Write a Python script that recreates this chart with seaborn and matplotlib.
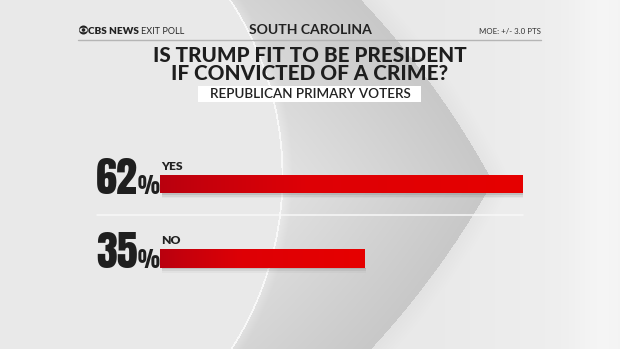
import numpy as np
import pandas as pd
import matplotlib
matplotlib.use("Agg")
import matplotlib.pyplot as plt
import seaborn as sns
from matplotlib.patches import Rectangle, Ellipse
from matplotlib.lines import Line2D
from matplotlib.textpath import TextPath
from matplotlib.font_manager import FontProperties

# ---- data ----
categories = ["YES", "NO"]
values = [62, 35]
header_left_bold = "CBS NEWS"
header_left_light = "EXIT POLL"
header_center = "SOUTH CAROLINA"
header_right = "MOE: +/- 3.0 PTS"
title_lines = ["IS TRUMP FIT TO BE PRESIDENT", "IF CONVICTED OF A CRIME?"]
subtitle = "REPUBLICAN PRIMARY VOTERS"

df = pd.DataFrame({"answer": categories, "pct": values})

sns.set_theme(style="white")
plt.rcParams["font.family"] = ["Lato", "DejaVu Sans"]

W, H = 620, 349
fig = plt.figure(figsize=(W / 100, H / 100), dpi=100)
fig.patch.set_facecolor("#e9e9e9")


def fx(px):
    return px / W


def fy(py):
    return 1 - py / H


def size_for(text, target_px, prop, dim="h"):
    """font size (pt) so that the glyph extent matches target pixels"""
    ext = TextPath((0, 0), text, size=1, prop=prop).get_extents()
    span = ext.height if dim == "h" else ext.width
    return target_px / span * 72 / 100


# ---- background decoration (pixel image) ----
yy, xx = np.mgrid[0:H, 0:W].astype(float)
img = np.full((H, W), 233.0)
img += np.clip((xx - 420) / 200, 0, 1) * 8
cLx, cLy, rL = -38, 175, 320
dL = np.hypot(xx - cLx, yy - cLy)
aX, aY, rA = -269, 594, 866
bX, bY, rB = -269, -244, 872
eA = rA - np.hypot(xx - aX, yy - aY)
eB = rB - np.hypot(xx - bX, yy - bY)
e = np.minimum(eA, eB)
inside = (e > 0) & (dL > rL)
shade = 200 + np.clip(e, 0, 170) / 170 * 25
img = np.where(inside, shade, img)
band = (e <= 0) & (e > -18) & (dL > rL)
img = np.where(band, img - 7 * (1 + e / 18), img)
img = np.where((dL > rL) & (dL < rL + 10) & (e > 0), img + 10 * (1 - (dL - rL) / 10), img)
img = np.where(np.abs(dL - rL) < 0.9, 248, img)
img += np.exp(-((xx - 600) / 25) ** 2) * 5
img = np.clip(img, 0, 255) / 255
bg = fig.add_axes([0, 0, 1, 1], zorder=-10)
bg.imshow(np.dstack([img, img, img]), extent=(0, W, H, 0), aspect="auto",
          interpolation="bilinear")
bg.set_xlim(0, W)
bg.set_ylim(H, 0)
bg.axis("off")

# ---- bar axes ----
x0_px, x1_px = 160, 523
top_px, bot_px = 140, 290
unit = 74.5
ylim = (1 + (bot_px - 258.5) / unit, -(184 - top_px) / unit)
ax = fig.add_axes([fx(x0_px), fy(bot_px), fx(x1_px - x0_px), (bot_px - top_px) / H])
ax.set_facecolor("none")
sns.barplot(data=df, y="answer", x="pct", orient="h", ax=ax,
            color="#dc0008", width=0.25, saturation=1, edgecolor="none")
ax.set_xlim(0, max(values))
ax.set_ylim(*ylim)
ax.axis("off")

cmap = matplotlib.colors.LinearSegmentedColormap.from_list(
    "redgrad", [(0, "#b9000f"), (0.12, "#c6000c"), (0.4, "#de0006"), (1, "#e60000")])
grad = np.linspace(0, 1, 256).reshape(1, -1)
for p in list(ax.patches):
    x, y = p.get_x(), p.get_y()
    w, h = p.get_width(), p.get_height()
    for k, a in enumerate([0.2, 0.12, 0.06]):
        ax.add_patch(Rectangle((x + 0.3, y + h), w - 0.1, h * 0.09 * (k + 1),
                               color="#6e6e6e", alpha=a, lw=0, zorder=1))
    im = ax.imshow(grad, cmap=cmap, aspect="auto", extent=(x, x + w, y + h, y),
                   zorder=3)
    im.set_clip_path(p)
ax.set_xlim(0, max(values))
ax.set_ylim(*ylim)

num_fp = FontProperties(family=["Anton", "Oswald", "Archivo Narrow", "DejaVu Sans"])
lab_fp = FontProperties(family=["Lato", "DejaVu Sans"], weight="heavy")
num_size = size_for("62", 37, num_fp)
pct_size = size_for("%", 18, num_fp)
lab_size = size_for("YES", 9, lab_fp)

for i, (cat, v) in enumerate(zip(categories, values)):
    base_px = 193.5 + i * unit
    ax.text(0.15, i - 0.19, cat, ha="left", va="baseline", fontproperties=lab_fp,
            fontsize=lab_size, color="#222222")
    fig.text(fx(138), fy(base_px), f"{v}", ha="right", va="baseline",
             fontproperties=num_fp, fontsize=num_size, color="#1f1f1f")
    fig.text(fx(137.3), fy(base_px), "%", ha="left", va="baseline",
             fontproperties=num_fp, fontsize=pct_size, color="#1f1f1f")

fig.add_artist(Line2D([fx(97), fx(523)], [fy(214.5), fy(214.5)],
                      color="#f8f8f8", lw=1.1))

# ---- header ----
hb_fp = FontProperties(family=["Lato", "DejaVu Sans"], weight="heavy")
hl_fp = FontProperties(family=["Lato", "DejaVu Sans"], weight="normal")
fig.add_artist(Ellipse((fx(83.5), fy(30)), 9 / W, 9 / H, fc="#222222", ec="none"))
fig.add_artist(Ellipse((fx(83.5), fy(30)), 8 / W, 4.5 / H, fc="#e9e9e9", ec="none"))
fig.add_artist(Ellipse((fx(83.5), fy(30)), 3.6 / W, 3.6 / H, fc="#222222", ec="none"))
fig.text(fx(88.5), fy(34), header_left_bold, ha="left", va="baseline",
         fontproperties=hb_fp, fontsize=size_for(header_left_bold, 50, hb_fp, "w"),
         color="#222222")
fig.text(fx(141), fy(34), header_left_light, ha="left", va="baseline",
         fontproperties=hl_fp, fontsize=size_for(header_left_light, 43, hl_fp, "w"),
         color="#2a2a2a")
hc_fp = FontProperties(family=["Lato", "DejaVu Sans"], weight="bold")
fig.text(fx(310.5), fy(34.5), header_center, ha="center", va="baseline",
         fontproperties=hc_fp, fontsize=size_for(header_center, 123, hc_fp, "w"),
         color="#222222")
fig.text(fx(541), fy(34), header_right, ha="right", va="baseline",
         fontproperties=hl_fp, fontsize=size_for(header_right, 61, hl_fp, "w"),
         color="#333333")
fig.add_artist(Line2D([fx(78), fx(541)], [fy(40), fy(40)], color="#b5b5b5", lw=1))

t_fp = FontProperties(family=["Lato", "DejaVu Sans"], weight="black")
fig.text(fx(310), fy(62), title_lines[0], ha="center", va="baseline",
         fontproperties=t_fp, fontsize=size_for(title_lines[0], 312, t_fp, "w"),
         color="#1e1e1e")
fig.text(fx(310), fy(80), title_lines[1], ha="center", va="baseline",
         fontproperties=t_fp, fontsize=size_for(title_lines[1], 274, t_fp, "w"),
         color="#1e1e1e")

fig.add_artist(Rectangle((fx(198), fy(102)), fx(421 - 198), (102 - 86) / H,
                         facecolor="white", edgecolor="none"))
s_fp = FontProperties(family=["Lato", "DejaVu Sans"], weight="semibold")
fig.text(fx(310), fy(98.5), subtitle, ha="center", va="baseline",
         fontproperties=s_fp, fontsize=size_for(subtitle, 200, s_fp, "w"),
         color="#222222")

fig.savefig("out.png", dpi=100)
